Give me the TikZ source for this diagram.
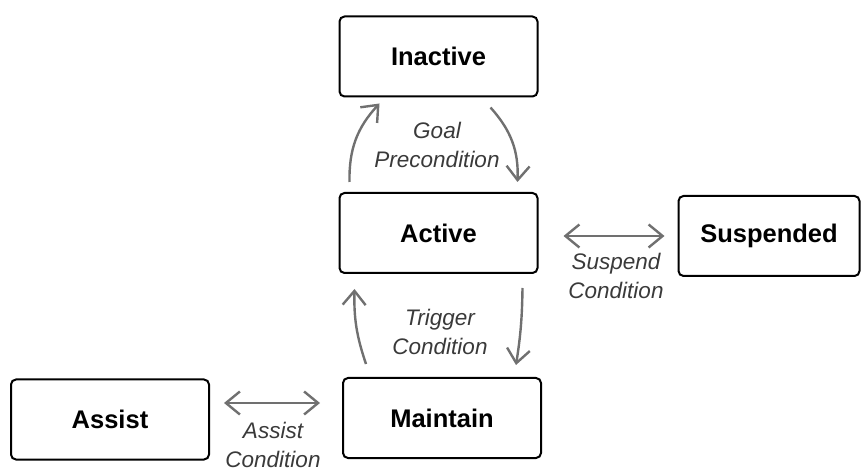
\documentclass[tikz,border=0pt]{standalone}
\usepackage{fontspec}
\setmainfont{Liberation Sans}
\usetikzlibrary{arrows.meta}
\definecolor{linkgray}{HTML}{707070}
\definecolor{labelgray}{HTML}{3A3A3A}
\tikzset{
  state/.style={draw=black, line width=2pt, rounded corners=5pt, fill=white,
    minimum width=198pt, minimum height=80pt, inner sep=0pt,
    font=\fontsize{25.5}{30}\selectfont\bfseries},
  barb/.tip={Straight Barb[length=14pt,width=23pt,line width=2.4pt]},
  link/.style={draw=linkgray, line width=2.4pt, -barb},
  dlink/.style={link, barb-barb},
  cond/.style={text=labelgray, align=center, inner sep=0pt,
    font=\fontsize{22.5}{29}\selectfont\itshape},
}
\begin{document}
\begin{tikzpicture}[x=1pt,y=1pt]
  \useasboundingbox (0,0) rectangle (862,474);

  % states
  \node[state] (inactive)  at (438.5,417.5) {Inactive};
  \node[state] (active)    at (438.5,241)   {Active};
  \node[state] (maintain)  at (442,56)      {Maintain};
  \node[state] (assist)    at (110,54.5)    {Assist};
  \node[state, minimum width=181pt] (suspended) at (769,238) {Suspended};

  % transitions between Inactive and Active
  \draw[link] ([shift={(11,10)}]active.north west) to[bend left=22] ([shift={(41,-6)}]inactive.south west);
  \draw[link] ([shift={(-48,-10)}]inactive.south east) to[bend left=22] ([shift={(-21,10)}]active.north east);

  % transitions between Active and Maintain
  \draw[link] ([shift={(24,13)}]maintain.north west) to[bend left=10] ([shift={(16,-15)}]active.south west);
  \draw[link] ([shift={(-16,-14)}]active.south east) to[bend left=4] ([shift={(-26,12)}]maintain.north east);

  % two-way links
  \draw[dlink] ([shift={(25,-3)}]active.east) -- ([shift={(-13,0)}]suspended.west);
  \draw[dlink] ([shift={(14,16.5)}]assist.east) -- ([shift={(-22,15)}]maintain.west);

  % conditions
  \node[cond] (goal)    at (437,329) {Goal\\Precondition};
  \node[cond] (trigger) at (440,142) {Trigger\\Condition};
  \node[cond] (suspend) at (616,198) {Suspend\\Condition};
  \node[cond] (assistc) at (273,29)  {Assist\\Condition};
\end{tikzpicture}
\end{document}
